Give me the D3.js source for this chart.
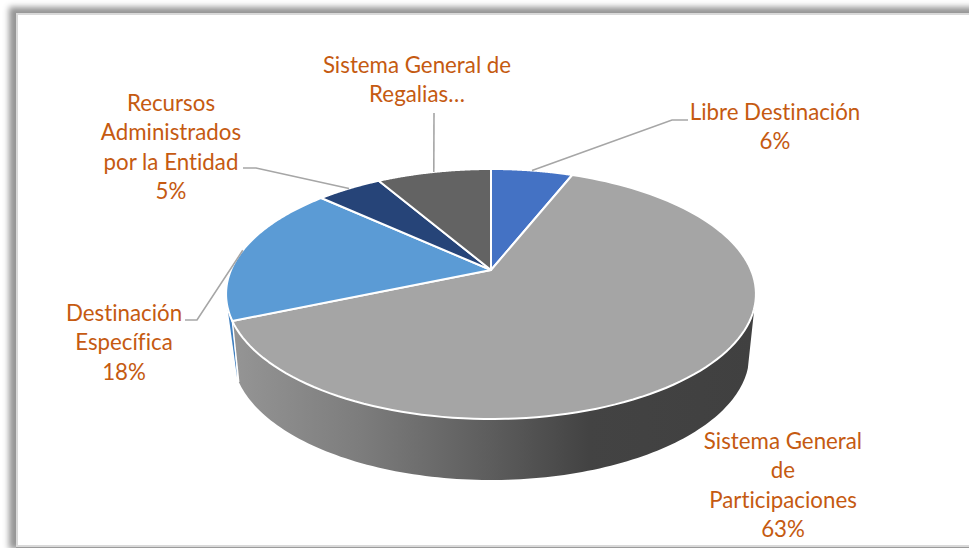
<!DOCTYPE html>
<html><head><meta charset="utf-8">
<style>
html,body{margin:0;padding:0;background:#fff;overflow:hidden;width:969px;height:548px}
svg{position:absolute;left:0;top:0}
#frame{position:absolute;left:16px;top:13px;width:1000px;height:530px;background:#fff;border:2px solid #d9d9d9;box-shadow:-3px -2px 6px 4px #969696,0 3px 0 0 #a8a8a8}
</style>
<script src="https://cdnjs.cloudflare.com/ajax/libs/d3/7.8.5/d3.min.js"></script>
</head><body>
<div id="frame"></div>
<svg id="c" width="969" height="548"></svg>
<script>
const categories = ["Libre Destinación","Sistema General de Participaciones","Destinación Específica","Recursos Administrados por la Entidad","Sistema General de Regalias"];
const values = [6,62.6,18.2,4.8,8.4];
const colors = ["#4472c4","#a5a5a5","#5b9bd5","#264478","#636363"];
const labelLines = [
  ["Libre Destinación","6%"],
  ["Sistema General","de","Participaciones","63%"],
  ["Destinación","Específica","18%"],
  ["Recursos","Administrados","por la Entidad","5%"],
  ["Sistema General de","Regalias…"]
];
const labelPos = [[775,120],[783,449],[124,321],[171,111],[417,73]];
const elbows = [[[672,120],[688,120]],null,[[197,320],[185,320]],[[256,168],[243,168]],[[434,113]]];

// perspective view of the pie disc
const apex=[491,270], A=260, B=120.4, k=0.192;
const proj=t=>{const u=Math.sin(t),v=Math.cos(t),d=1+k*v;return [apex[0]+A*u/d,apex[1]-B*v/d];};
const depth=61, squeeze=0.975;
const lower=t=>{const p=proj(t);return [apex[0]+(p[0]-apex[0])*squeeze,p[1]+depth];};
const range=(a,b)=>d3.range(0,121).map(i=>a+(b-a)*i/120);
const line=d3.line();

const svg=d3.select("#c");
const pie=d3.pie().sort(null).value(d=>d)(values);

const defs=svg.append("defs");
const g=defs.append("linearGradient").attr("id","wall").attr("gradientUnits","userSpaceOnUse")
  .attr("x1",232).attr("x2",756).attr("y1",0).attr("y2",0);
[[0,"#959595"],[0.25,"#7c7c7c"],[0.5,"#5c5c5c"],[0.68,"#434343"],[1,"#404040"]]
  .forEach(s=>g.append("stop").attr("offset",s[0]).attr("stop-color",s[1]));

// side walls
const big=pie[1], dest=pie[2];
const wall=(a,b)=>line(range(a,b).map(proj).concat(range(a,b).reverse().map(lower)))+"Z";
svg.append("path").attr("d",line([proj(dest.startAngle+0.12),proj(dest.startAngle),lower(dest.startAngle+0.03)])+"Z").attr("fill","#3f7fc0");
svg.append("path").attr("d",wall(Math.PI*0.594,big.endAngle)).attr("fill","url(#wall)");
svg.append("path").attr("d",line([proj(big.endAngle),lower(big.endAngle)])).attr("stroke","#fff").attr("stroke-width",1.4).attr("fill","none");

// top faces
svg.selectAll("path.slice").data(pie).join("path").attr("class","slice")
  .attr("d",d=>line([apex].concat(range(d.startAngle,d.endAngle).map(proj)))+"Z")
  .attr("fill",(d,i)=>colors[i]).attr("stroke","#fff").attr("stroke-width",2).attr("stroke-linejoin","round");

// leader lines
pie.forEach((d,i)=>{
  if(!elbows[i])return;
  svg.append("path").attr("fill","none").attr("stroke","#a6a6a6").attr("stroke-width",1.6)
    .attr("d",line([proj((d.startAngle+d.endAngle)/2)].concat(elbows[i])));
});

// labels
labelLines.forEach((ls,i)=>{
  const t=svg.append("text").attr("text-anchor","middle").attr("font-family","Lato, Carlito, sans-serif")
    .attr("font-size",22.3).attr("fill","#c55a11").style("font-variant-ligatures","none");
  ls.forEach((s,j)=>t.append("tspan").attr("x",labelPos[i][0]).attr("y",labelPos[i][1]+j*29.4).text(s));
});
</script>
</body></html>
